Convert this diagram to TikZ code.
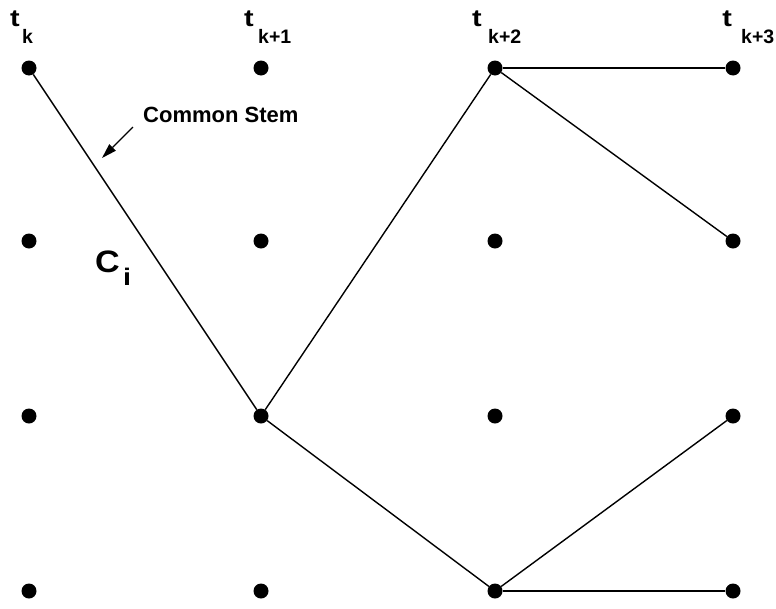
\documentclass[tikz,border=0pt]{standalone}
\usepackage{fontspec}
\setmainfont{Liberation Sans}
\usetikzlibrary{arrows.meta}
\begin{document}
\begin{tikzpicture}[x=1pt,y=-1pt,
  dot/.style={circle,fill=black,inner sep=0pt,minimum size=15pt},
  conn/.style={line width=1.4pt},
  tlab/.style={inner sep=0pt,anchor=base west,xscale=1.2,font=\bfseries\fontsize{24}{24}\selectfont},
  slab/.style={inner sep=0pt,anchor=base west,font=\bfseries\fontsize{19.5}{19.5}\selectfont}]
\useasboundingbox (0,0) rectangle (776,608);
% dots
\foreach \c/\x in {1/29,2/261,3/495,4/733}{
  \foreach \r/\y in {1/68,2/241,3/416,4/591}{
    \node[dot] (d\c\r) at (\x,\y) {};
  }
}
% connectors
\draw[conn] (d11) -- (d23);
\draw[conn] (d23) -- (d31);
\draw[conn] (d31) -- (d41);
\draw[conn] (d31) -- (d42);
\draw[conn] (d23) -- (d34);
\draw[conn] (d34) -- (d43);
\draw[conn] (d34) -- (d44);
% column labels
\node[tlab] (t1) at (10,26) {t};
\node[slab] (s1) at (22,43) {k};
\node[tlab] (t2) at (244,26) {t};
\node[slab] (s2) at (258,43) {k+1};
\node[tlab] (t3) at (472,26) {t};
\node[slab] (s3) at (488,43) {k+2};
\node[tlab] (t4) at (722,26) {t};
\node[slab] (s4) at (741,43) {k+3};
% Common stem
\node[inner sep=0pt,anchor=base west,font=\bfseries\fontsize{22}{22}\selectfont] (cs) at (143,122) {Common Stem};
\coordinate (a1) at (133,127);
\coordinate (a2) at (102,158);
\draw[line width=1.2pt,-{Triangle[length=15pt,width=9pt]}] (a1) -- (a2);
% C_i
\node[inner sep=0pt,anchor=base west,xscale=1.1,font=\bfseries\fontsize{31}{31}\selectfont] (ci) at (95,272) {C};
\node[inner sep=0pt,anchor=base west,xscale=1.2,font=\bfseries\fontsize{24}{24}\selectfont] (cii) at (123,285) {i};
\end{tikzpicture}
\end{document}
